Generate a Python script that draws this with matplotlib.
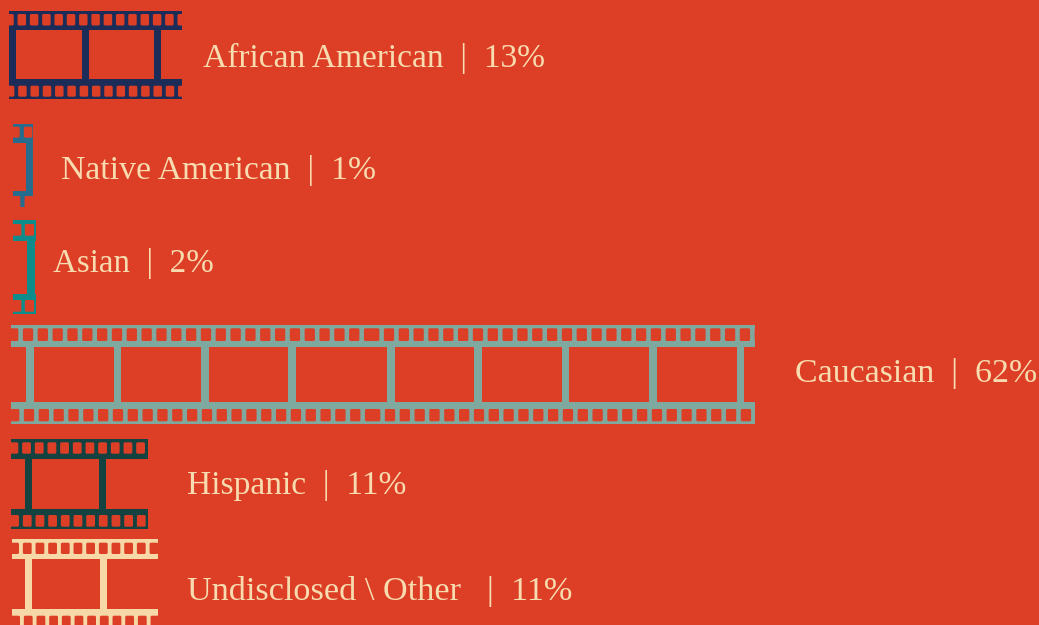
import matplotlib
matplotlib.use("Agg")
import matplotlib.pyplot as plt
from matplotlib.patches import Rectangle, FancyBboxPatch

BG = "#DC3E26"
TEXT = "#F8DBAE"

groups = ["African American", "Native American", "Asian", "Caucasian", "Hispanic", "Undisclosed \\ Other "]
shares = [13, 1, 2, 62, 11, 11]
# film length as drawn, in percent units (the strips were not cut exactly to scale)
film_spans = [14.42, 1.67, 1.92, 62.0, 11.42, 12.17]
colors = ["#1A2C57", "#266C8E", "#0E8C8C", "#7FA89F", "#134241", "#F6D9A6"]

PX_PER_UNIT = 12

# layout of each film, in pixels
films = [
    dict(x=9, top=(11, 30.3), bot=(79.3, 99), top_h=(14, 25.5), bot_h=(85.7, 96.7),
         first=(17.7, 18.3), pitch=12.3, hole=8, bars=[9, 82, 154.3], bar=6.8),
    dict(x=13, top=(124, 142.7), bot=(190.7, 207), top_h=(126.7, 137.7), bot_h=(196, 212),
         first=(24, 24.7), pitch=12.67, hole=8, bars=[26], bar=7),
    dict(x=13, top=(220.3, 240.7), bot=(294, 314.3), top_h=(224, 235.7), bot_h=(300, 311.7),
         first=(25, 25), pitch=12.67, hole=8.7, bars=[27.3], bar=8),
    dict(x=11, top=(324.7, 346.7), bot=(402.3, 424.3), top_h=(328.3, 341), bot_h=(409, 421.3),
         first=(23, 24), pitch=14.83, hole=9.8, bars=[26, 113.5, 201, 288.4, 386.7, 474, 561.5, 649, 736.6],
         bar=7.8, seam=372),
    dict(x=11, top=(439, 459), bot=(509.3, 529.3), top_h=(442.3, 453.7), bot_h=(515, 526.7),
         first=(22.3, 23), pitch=12.67, hole=8.3, bars=[25, 99], bar=6.8),
    dict(x=12, top=(539, 559), bot=(609.3, 630), top_h=(542.7, 554), bot_h=(615.7, 630),
         first=(23, 24), pitch=12.67, hole=8.3, bars=[25.3, 100], bar=6.9),
]
label_pos = [(203, 67), (61, 179), (53, 272), (795, 382), (187, 494), (187, 600)]
label_size = [24.1, 24.3, 23.8, 24.4, 24.1, 24.7]


def draw_holes(ax, clip, y, first, start, end, pitch, hole):
    x = first
    while x - pitch + hole > start:
        x -= pitch
    while x < end:
        p = FancyBboxPatch((x + 0.85, y[0] + 1), hole - 1.5, y[1] - y[0] - 2,
                           boxstyle="round,pad=1,rounding_size=1.5",
                           fc=BG, ec="none", zorder=3)
        ax.add_patch(p)
        p.set_clip_path(clip)
        x += pitch


def draw_film(ax, f, span, color):
    x0 = f["x"]
    w = span * PX_PER_UNIT
    ax.barh((f["top"][0] + f["top"][1]) / 2, w, f["top"][1] - f["top"][0], left=x0, color=color, zorder=2)
    ax.barh((f["bot"][0] + f["bot"][1]) / 2, w, f["bot"][1] - f["bot"][0], left=x0, color=color, zorder=2)
    for b in f["bars"]:
        ax.add_patch(Rectangle((b, f["top"][0]), f["bar"], f["bot"][1] - f["top"][0], fc=color, ec="none", zorder=2))
    # long strip is two pieces joined, so the sprockets restart at the seam
    seam = f.get("seam")
    parts = [(x0, x0 + w, 0)] if seam is None else [(x0, seam, 0), (seam, x0 + w, seam - x0)]
    for start, end, shift in parts:
        for y, first in ((f["top_h"], f["first"][0]), (f["bot_h"], f["first"][1])):
            part_clip = Rectangle((start, 0), end - start, 625, transform=ax.transData)
            draw_holes(ax, part_clip, y, first + shift, start, end, f["pitch"], f["hole"])


fig = plt.figure(figsize=(10.39, 6.25), dpi=100, facecolor=BG)
ax = fig.add_axes([0, 0, 1, 1])
ax.set_xlim(0, 1039)
ax.set_ylim(625, 0)
ax.axis("off")

for i in range(len(groups)):
    draw_film(ax, films[i], film_spans[i], colors[i])
    ax.text(label_pos[i][0], label_pos[i][1], f"{groups[i]}  |  {shares[i]}%", color=TEXT,
            family="Liberation Serif", fontsize=label_size[i], va="baseline", ha="left", zorder=4)

fig.savefig("out.png", dpi=100, facecolor=BG)
